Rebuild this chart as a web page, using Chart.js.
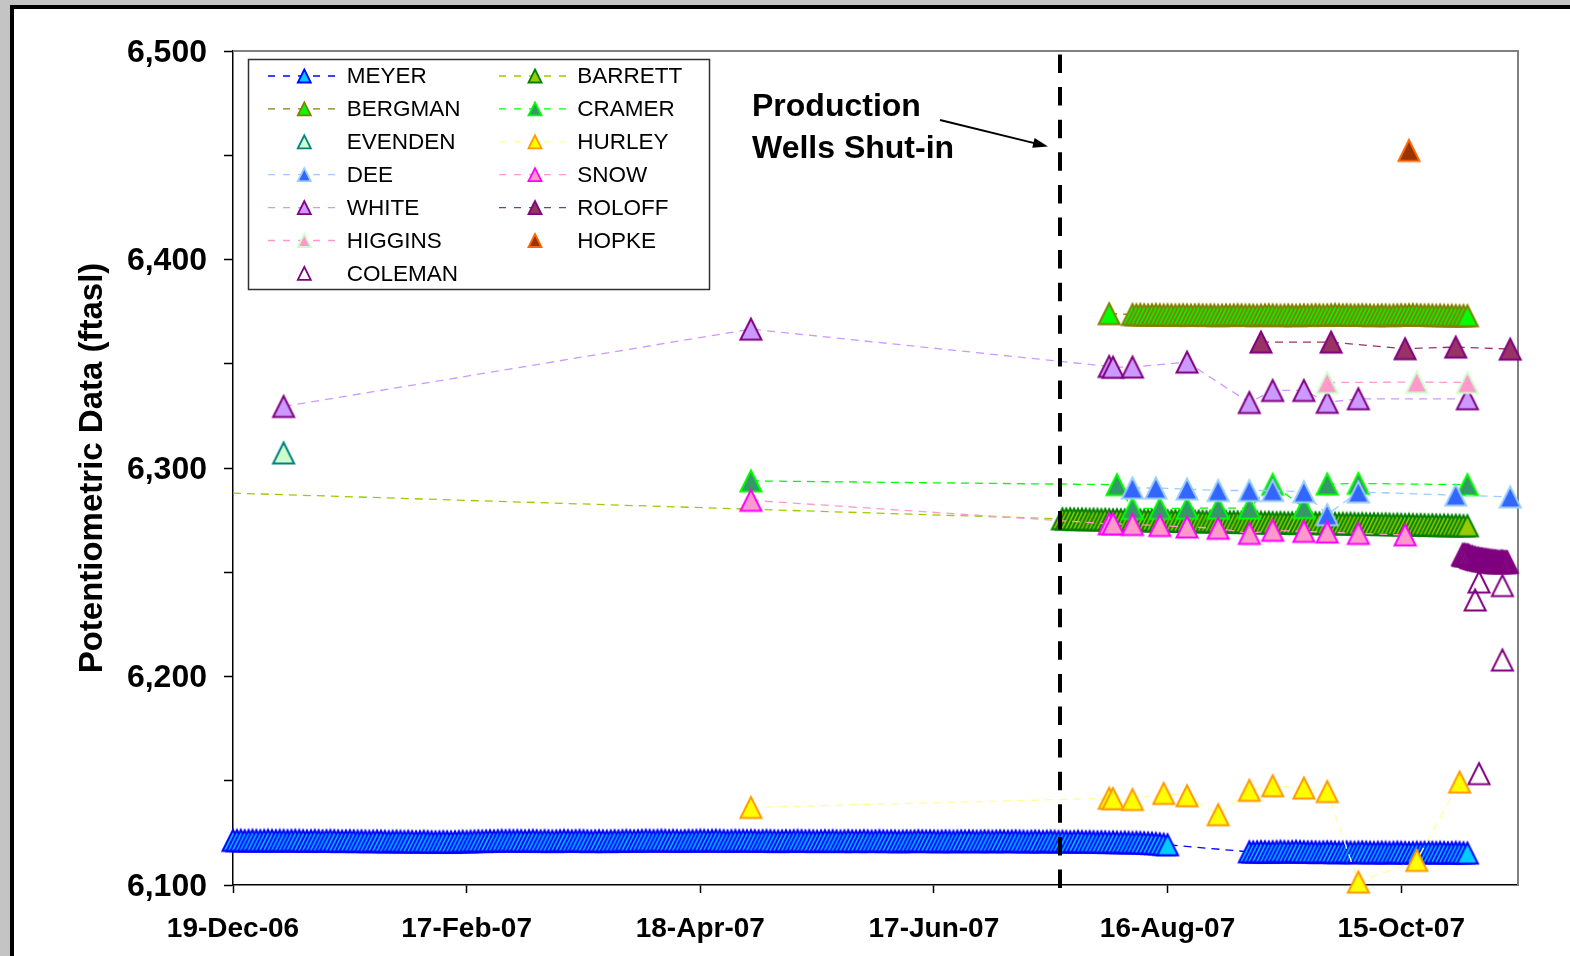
<!DOCTYPE html>
<html>
<head>
<meta charset="utf-8">
<title>Potentiometric Data</title>
<script src="https://cdn.jsdelivr.net/npm/chart.js@4.4.1/dist/chart.umd.min.js"></script>
<style>
  html, body { margin: 0; padding: 0; }
  body { width: 1570px; height: 956px; overflow: hidden; background: #c4c4c4; position: relative; }
  #frame { position: absolute; left: 10px; top: 5px; width: 1600px; height: 1000px;
           border-left: 4px solid #000; border-top: 4px solid #000; background: #fff; }
  #chart { position: absolute; left: 0; top: 0; }
</style>
</head>
<body>
<div id="frame"></div>
<canvas id="chart" width="1570" height="956"></canvas>
<script>
// ---- axis setup ----
const axisStart = '2006-12-19';
const axisSpanDays = 330;
const tickDates  = ['2006-12-19', '2007-02-17', '2007-04-18', '2007-06-17', '2007-08-16', '2007-10-15'];
const tickLabels = ['19-Dec-06', '17-Feb-07', '18-Apr-07', '17-Jun-07', '16-Aug-07', '15-Oct-07'];
const levelMin = 6100, levelMax = 6500, levelStep = 50;
const shutInDate = '2007-07-19T12:00';
const yAxisTitle = 'Potentiometric Data (ftasl)';
const noteLines = ['Production', 'Wells Shut-in'];

// ---- MEYER: daily transducer readings, two deployments ----
const meyerLogStartA = '2006-12-19';
const meyerLogA = [
  6121.4, 6121.3, 6121.4, 6121.2, 6121.3, 6121.4, 6121.3, 6121.2, 6121.3, 6121.4, 6121.3, 6121.2, 6121.3,
  6121.3, 6121.2, 6121.3, 6121.4, 6121.3, 6121.2, 6121.1, 6121.2, 6121.3, 6121.2, 6121.1, 6121.2, 6121.3, 6121.2, 6121.1, 6121.0,
  6121.1, 6121.2, 6121.1, 6121.0, 6121.1, 6121.0, 6120.9, 6121.0, 6121.1, 6121.0, 6120.9, 6120.8, 6120.9, 6121.0, 6120.9,
  6120.8, 6120.9, 6120.8, 6120.7, 6120.8, 6120.9, 6120.8, 6120.7, 6120.6, 6120.7, 6120.8, 6120.7, 6120.6, 6120.7,
  6120.8, 6120.9, 6120.8, 6120.9, 6121.0, 6121.1, 6121.0, 6121.1, 6121.2, 6121.1, 6121.2, 6121.3, 6121.2, 6121.3,
  6121.2, 6121.3, 6121.2, 6121.1, 6121.2, 6121.3, 6121.2, 6121.1, 6121.2, 6121.1, 6121.0, 6121.1, 6121.2, 6121.3, 6121.2, 6121.1,
  6121.2, 6121.3, 6121.2, 6121.1, 6121.0, 6121.1, 6121.2, 6121.1, 6121.0, 6121.1, 6121.2, 6121.1, 6121.2, 6121.3, 6121.2,
  6121.1, 6121.2, 6121.3, 6121.4, 6121.3, 6121.2, 6121.3, 6121.4, 6121.3, 6121.2, 6121.3, 6121.2, 6121.1, 6121.2, 6121.3,
  6121.2, 6121.3, 6121.4, 6121.3, 6121.2, 6121.3, 6121.4, 6121.3, 6121.2, 6121.1, 6121.2, 6121.3, 6121.2, 6121.3, 6121.2,
  6121.3, 6121.2, 6121.1, 6121.2, 6121.3, 6121.2, 6121.1, 6121.0, 6121.1, 6121.2, 6121.1, 6121.2, 6121.3, 6121.2, 6121.1, 6121.2,
  6121.1, 6121.0, 6121.1, 6121.2, 6121.1, 6121.2, 6121.1, 6121.0, 6121.1, 6121.2, 6121.1, 6121.0, 6121.1, 6121.2, 6121.1,
  6121.0, 6121.1, 6121.2, 6121.1, 6121.0, 6121.1, 6121.0, 6120.9, 6121.0, 6121.1, 6121.0, 6121.1, 6121.2, 6121.1, 6121.0,
  6121.1, 6121.0, 6120.9, 6121.0, 6121.1, 6121.0, 6120.9, 6121.0, 6121.1, 6121.0, 6121.1, 6121.0, 6120.9, 6121.0, 6121.1,
  6121.0, 6120.9, 6121.0, 6121.1, 6121.0, 6120.9, 6121.0, 6121.1, 6121.0, 6120.9, 6120.8, 6120.9, 6121.0, 6120.9, 6120.8, 6120.9,
  6121.0, 6120.9, 6120.8, 6120.9, 6120.8, 6120.7, 6120.8, 6120.9, 6120.8, 6120.7, 6120.8, 6120.7, 6120.6, 6120.7, 6120.6,
  6120.5, 6120.6, 6120.5, 6120.4, 6120.5, 6120.4, 6120.3, 6120.4, 6120.3, 6120.2, 6120.1, 6120.0, 6119.9, 6119.7, 6119.5, 6119.3
];
const meyerLogStartB = '2007-09-06';
const meyerLogB = [
  6115.9, 6115.8, 6115.9, 6116.0, 6115.9, 6115.8, 6115.9, 6116.0, 6116.1, 6116.0, 6115.9, 6116.0, 6116.1,
  6116.0, 6115.9, 6115.8, 6115.9, 6115.8, 6115.7, 6115.8, 6115.9, 6115.8, 6115.7, 6115.6, 6115.7,
  6115.8, 6115.7, 6115.6, 6115.7, 6115.8, 6115.7, 6115.6, 6115.5, 6115.6, 6115.7, 6115.6, 6115.5, 6115.6, 6115.7, 6115.6, 6115.5,
  6115.4, 6115.5, 6115.6, 6115.5, 6115.6, 6115.7, 6115.6, 6115.5, 6115.6, 6115.5, 6115.4, 6115.5, 6115.6, 6115.5, 6115.4,
  6115.3
];

// ---- BARRETT: one early reading, then daily transducer ----
const barrettDates = ['2006-12-01'];
const barrettLevels = [6289.0];
const barrettLogStart = '2007-07-20';
const barrettLog = [
  6275.6, 6275.5, 6275.6, 6275.5, 6275.4, 6275.5, 6275.4, 6275.3, 6275.4, 6275.3, 6275.2, 6275.3,
  6275.2, 6275.1, 6275.2, 6275.1, 6275.0, 6275.1, 6275.0, 6274.9, 6275.0, 6274.9, 6274.8, 6274.9, 6274.8, 6274.7, 6274.8, 6274.7,
  6274.6, 6274.7, 6274.6, 6274.5, 6274.6, 6274.5, 6274.4, 6274.5, 6274.4, 6274.3, 6274.4, 6274.3, 6274.2, 6274.3, 6274.2,
  6274.1, 6274.2, 6274.1, 6274.0, 6274.1, 6274.0, 6273.9, 6274.0, 6273.9, 6273.8, 6273.9, 6273.8, 6273.7, 6273.8, 6273.7,
  6273.6, 6273.7, 6273.6, 6273.5, 6273.6, 6273.5, 6273.6, 6273.7, 6273.6, 6273.5, 6273.4, 6273.5, 6273.4, 6273.3, 6273.4,
  6273.3, 6273.4, 6273.3, 6273.2, 6273.3, 6273.2, 6273.1, 6273.2, 6273.1, 6273.0, 6273.1, 6273.0, 6272.9, 6273.0, 6272.9,
  6272.8, 6272.9, 6272.8, 6272.7, 6272.8, 6272.7, 6272.6, 6272.7, 6272.6, 6272.5, 6272.6, 6272.5, 6272.4, 6272.5, 6272.4, 6272.3,
  6272.3
];

// ---- BERGMAN: one manual reading, then daily transducer ----
const bergmanDates = ['2007-08-01'];
const bergmanLevels = [6374.0];
const bergmanLogStart = '2007-08-07';
const bergmanLog = [
  6373.6, 6373.5, 6373.6, 6373.5, 6373.4, 6373.5, 6373.6, 6373.5, 6373.4, 6373.5, 6373.4, 6373.3, 6373.4,
  6373.5, 6373.4, 6373.3, 6373.4, 6373.5, 6373.4, 6373.3, 6373.4, 6373.3, 6373.2, 6373.3, 6373.4,
  6373.3, 6373.4, 6373.5, 6373.4, 6373.3, 6373.4, 6373.3, 6373.2, 6373.3, 6373.4, 6373.5, 6373.4, 6373.3, 6373.2, 6373.3,
  6373.4, 6373.3, 6373.2, 6373.3, 6373.4, 6373.3, 6373.4, 6373.5, 6373.4, 6373.3, 6373.4, 6373.5, 6373.6, 6373.5, 6373.4,
  6373.5, 6373.4, 6373.3, 6373.4, 6373.5, 6373.4, 6373.3, 6373.2, 6373.3, 6373.4, 6373.3, 6373.2, 6373.3, 6373.4, 6373.5, 6373.4,
  6373.5, 6373.6, 6373.5, 6373.4, 6373.3, 6373.4, 6373.3, 6373.2, 6373.3, 6373.2, 6373.1, 6373.2, 6373.1, 6373.0, 6373.1,
  6373.0
];

// ---- manual readings ----
const cramerDates = ['2007-05-01', '2007-08-03', '2007-08-07', '2007-08-14', '2007-08-21', '2007-08-29', '2007-09-06',
                     '2007-09-12', '2007-09-20', '2007-09-26', '2007-10-04', '2007-11-01'];
const cramerLevels = [6293.8, 6292.0, 6280.6, 6280.6, 6280.7, 6280.8, 6280.8, 6292.2, 6281.0, 6292.3, 6292.6, 6292.0];

const evendenDates = ['2007-01-01'];
const evendenLevels = [6307.2];

const hurleyDates = ['2007-05-01', '2007-08-01', '2007-08-02', '2007-08-07', '2007-08-15', '2007-08-21', '2007-08-29',
                     '2007-09-06', '2007-09-12', '2007-09-20', '2007-09-26', '2007-10-04', '2007-10-19', '2007-10-30'];
const hurleyLevels = [6137.2, 6141.6, 6141.4, 6141.0, 6143.9, 6142.8, 6133.7, 6145.4, 6147.6, 6146.5, 6144.8, 6101.4, 6111.8, 6149.4];

const deeDates = ['2007-08-07', '2007-08-13', '2007-08-21', '2007-08-29', '2007-09-06', '2007-09-12', '2007-09-20',
                  '2007-09-26', '2007-10-04', '2007-10-29', '2007-11-12'];
const deeLevels = [6290.4, 6290.4, 6289.9, 6289.2, 6289.2, 6289.2, 6288.6, 6277.6, 6288.5, 6287.0, 6286.1];

const snowDates = ['2007-05-01', '2007-08-01', '2007-08-02', '2007-08-07', '2007-08-14', '2007-08-21', '2007-08-29',
                   '2007-09-06', '2007-09-12', '2007-09-20', '2007-09-26', '2007-10-04', '2007-10-16'];
const snowLevels = [6284.5, 6273.2, 6273.2, 6272.9, 6272.4, 6271.7, 6271.1, 6268.6, 6270.1, 6269.6, 6269.3, 6268.6, 6267.9];

const whiteDates = ['2007-01-01', '2007-05-01', '2007-08-01', '2007-08-02', '2007-08-07', '2007-08-21', '2007-09-06',
                    '2007-09-12', '2007-09-20', '2007-09-26', '2007-10-04', '2007-11-01'];
const whiteLevels = [6329.5, 6366.6, 6348.7, 6348.3, 6348.4, 6350.8, 6331.4, 6337.2, 6337.2, 6331.5, 6333.2, 6333.2];

const roloffDates = ['2007-09-09', '2007-09-27', '2007-10-16', '2007-10-29', '2007-11-12'];
const roloffLevels = [6360.4, 6360.4, 6357.2, 6358.0, 6357.0];

const higginsDates = ['2007-09-26', '2007-10-19', '2007-11-01'];
const higginsLevels = [6341.0, 6341.2, 6341.0];

const hopkeDates = ['2007-10-17'];
const hopkeLevels = [6452.3];

// ---- COLEMAN: 6-hourly transducer plus manual readings ----
const colemanLogStart = '2007-10-30T18:00';
const colemanLogStepHours = 6;
const colemanLog = [
  6258.4, 6258.1, 6258.5, 6258.0, 6258.3, 6257.9, 6258.2, 6257.8,
  6257.4, 6257.0, 6257.5, 6256.9, 6256.6, 6257.0, 6256.5, 6256.2,
  6256.7, 6256.0, 6256.4, 6255.8, 6256.3, 6255.6, 6256.1, 6255.5,
  6256.0, 6255.3, 6255.9, 6255.1, 6255.7, 6255.0, 6255.6, 6254.9,
  6255.5, 6254.7, 6255.4, 6254.8, 6255.2, 6254.6, 6255.1, 6254.7,
  6255.3, 6254.9, 6255.1, 6254.6, 6255.0, 6254.8, 6254.9
];
const colemanDates = ['2007-11-03', '2007-11-04', '2007-11-04', '2007-11-10', '2007-11-10'];
const colemanLevels = [6236.7, 6245.3, 6153.4, 6243.6, 6207.9];

// ---- marker / line styles per well ----
const seriesStyle = {
  MEYER:   { line: '#0000ff', fill: '#00ccff', edge: '#0000ff' },
  BERGMAN: { line: '#808000', fill: '#00ff00', edge: '#808000' },
  EVENDEN: { line: null,      fill: '#ccffcc', edge: '#008080' },
  DEE:     { line: '#99ccff', fill: '#3366ff', edge: '#99ccff' },
  WHITE:   { line: '#cc99ff', fill: '#cc99ff', edge: '#800080' },
  HIGGINS: { line: '#ff99cc', fill: '#ff99cc', edge: '#ccffcc' },
  COLEMAN: { line: null,      fill: null,      edge: '#800080' },
  BARRETT: { line: '#99cc00', fill: '#99cc00', edge: '#008000' },
  CRAMER:  { line: '#00ff00', fill: '#339966', edge: '#00ff00' },
  HURLEY:  { line: '#ffff99', fill: '#ffff00', edge: '#ff9900' },
  SNOW:    { line: '#ff99cc', fill: '#ff99cc', edge: '#ff00ff' },
  ROLOFF:  { line: '#993366', fill: '#993366', edge: '#800080' },
  HOPKE:   { line: null,      fill: '#993300', edge: '#ff6600' }
};
const legendColumns = [
  ['MEYER', 'BERGMAN', 'EVENDEN', 'DEE', 'WHITE', 'HIGGINS', 'COLEMAN'],
  ['BARRETT', 'CRAMER', 'HURLEY', 'SNOW', 'ROLOFF', 'HOPKE']
];
// painting order, first = bottom
const paintOrder = ['MEYER', 'BARRETT', 'BERGMAN', 'CRAMER', 'EVENDEN', 'HURLEY', 'DEE', 'SNOW',
                    'WHITE', 'ROLOFF', 'HIGGINS', 'HOPKE', 'COLEMAN'];

const FONT = '"Liberation Sans", Arial, Helvetica, sans-serif';

// ---- helpers ----
function toUTC(s) {
  const [datePart, timePart] = s.split('T');
  const [y, m, d] = datePart.split('-').map(Number);
  const [hh, mm] = (timePart || '00:00').split(':').map(Number);
  return Date.UTC(y, m - 1, d, hh, mm);
}
const ORIGIN = toUTC(axisStart);
function dayOf(s) { return (toUTC(s) - ORIGIN) / 86400000; }
function readings(dates, levels) { return dates.map((d, i) => ({ x: dayOf(d), y: levels[i] })); }
function logger(start, levels, stepDays) {
  const s = dayOf(start);
  return levels.map((v, i) => ({ x: s + i * stepDays, y: v }));
}

// Excel-style triangle (width = height), centred on its bounding box
function tri(ctx, cx, cy, h, fill, edge, lw) {
  ctx.save();
  ctx.beginPath();
  ctx.moveTo(cx, cy - h / 2);
  ctx.lineTo(cx + h / 2, cy + h / 2);
  ctx.lineTo(cx - h / 2, cy + h / 2);
  ctx.closePath();
  if (fill) { ctx.fillStyle = fill; ctx.fill(); }
  ctx.lineJoin = 'miter';
  ctx.lineWidth = lw;
  ctx.strokeStyle = edge;
  ctx.stroke();
  ctx.restore();
}
function markerImage(st) {
  const c = document.createElement('canvas');
  c.width = c.height = 30;
  tri(c.getContext('2d'), 15, 15, 21, st.fill, st.edge, 2);
  return c;
}

// ---- datasets ----
const seriesData = {
  MEYER:   logger(meyerLogStartA, meyerLogA, 1).concat(logger(meyerLogStartB, meyerLogB, 1)),
  BARRETT: readings(barrettDates, barrettLevels).concat(logger(barrettLogStart, barrettLog, 1)),
  BERGMAN: readings(bergmanDates, bergmanLevels).concat(logger(bergmanLogStart, bergmanLog, 1)),
  CRAMER:  readings(cramerDates, cramerLevels),
  EVENDEN: readings(evendenDates, evendenLevels),
  HURLEY:  readings(hurleyDates, hurleyLevels),
  DEE:     readings(deeDates, deeLevels),
  SNOW:    readings(snowDates, snowLevels),
  WHITE:   readings(whiteDates, whiteLevels),
  ROLOFF:  readings(roloffDates, roloffLevels),
  HIGGINS: readings(higginsDates, higginsLevels),
  HOPKE:   readings(hopkeDates, hopkeLevels),
  COLEMAN: logger(colemanLogStart, colemanLog, colemanLogStepHours / 24)
             .concat(readings(colemanDates, colemanLevels)).sort((a, b) => a.x - b.x)
};

const datasets = paintOrder.map((name, i) => {
  const st = seriesStyle[name];
  return {
    label: name,
    data: seriesData[name],
    order: paintOrder.length - i,
    showLine: !!st.line,
    borderColor: st.line || st.edge,
    borderWidth: 1.3,
    borderDash: [8, 6],
    tension: 0,
    fill: false,
    pointStyle: markerImage(st),
    pointRadius: 12,
    pointHoverRadius: 12,
    clip: name === 'BARRETT' ? 0 : false
  };
});

// ---- decorations: plot frame, shut-in line, note, legend ----
const decorations = {
  id: 'decorations',
  beforeDatasetsDraw(chart) {
    const { ctx, chartArea: a } = chart;
    ctx.save();
    ctx.strokeStyle = '#808080';
    ctx.lineWidth = 2;
    ctx.beginPath();
    ctx.moveTo(a.left, a.top);
    ctx.lineTo(a.right, a.top);
    ctx.lineTo(a.right, a.bottom);
    ctx.stroke();
    ctx.restore();
  },
  afterDatasetsDraw(chart) {
    const { ctx, chartArea: a, scales } = chart;
    const x = Math.round(scales.x.getPixelForValue(dayOf(shutInDate)));
    ctx.save();
    ctx.strokeStyle = '#000';
    ctx.lineWidth = 4;
    ctx.setLineDash([18.5, 14.1]);
    ctx.beginPath();
    ctx.moveTo(x, a.bottom + 3);
    ctx.lineTo(x, a.top);
    ctx.stroke();
    ctx.restore();
  },
  afterDraw(chart) {
    const { ctx } = chart;
    ctx.save();
    // note text
    ctx.fillStyle = '#000';
    ctx.font = 'bold 32px ' + FONT;
    ctx.textBaseline = 'alphabetic';
    ctx.textAlign = 'left';
    ctx.fillText(noteLines[0], 752, 115.5);
    ctx.fillText(noteLines[1], 752, 157.5);
    // arrow
    const x0 = 940, y0 = 120, x1 = 1048, y1 = 146.5;
    const ang = Math.atan2(y1 - y0, x1 - x0);
    ctx.strokeStyle = '#000';
    ctx.lineWidth = 2;
    ctx.beginPath();
    ctx.moveTo(x0, y0);
    ctx.lineTo(x1 - 12 * Math.cos(ang), y1 - 12 * Math.sin(ang));
    ctx.stroke();
    ctx.beginPath();
    ctx.moveTo(x1, y1);
    ctx.lineTo(x1 - 15 * Math.cos(ang) + 5 * Math.sin(ang), y1 - 15 * Math.sin(ang) - 5 * Math.cos(ang));
    ctx.lineTo(x1 - 15 * Math.cos(ang) - 5 * Math.sin(ang), y1 - 15 * Math.sin(ang) + 5 * Math.cos(ang));
    ctx.closePath();
    ctx.fill();

    // legend box
    const bx = 248.5, by = 59.5, bw = 461, bh = 230;
    ctx.fillStyle = '#fff';
    ctx.fillRect(bx, by, bw, bh);
    ctx.strokeStyle = '#303030';
    ctx.lineWidth = 1.5;
    ctx.strokeRect(bx, by, bw, bh);
    const colLine = [268, 499], colMark = [304.3, 535], colText = [346.7, 577.3];
    ctx.font = '22.5px ' + FONT;
    ctx.textBaseline = 'middle';
    legendColumns.forEach((col, ci) => {
      col.forEach((name, ri) => {
        const y = 76 + ri * 32.9;
        const st = seriesStyle[name];
        if (st.line) {
          ctx.save();
          ctx.strokeStyle = st.line;
          ctx.lineWidth = 1.3;
          ctx.setLineDash([7, 8]);
          ctx.beginPath();
          ctx.moveTo(colLine[ci], y);
          ctx.lineTo(colLine[ci] + 70, y);
          ctx.stroke();
          ctx.restore();
        }
        tri(ctx, colMark[ci], y, 13, st.fill, st.edge, 1.8);
        ctx.fillStyle = '#000';
        ctx.fillText(name, colText[ci], y + 1);
      });
    });
    ctx.restore();
  }
};

new Chart(document.getElementById('chart'), {
  type: 'line',
  data: { datasets },
  plugins: [decorations],
  options: {
    animation: false,
    responsive: false,
    devicePixelRatio: 1,
    events: [],
    layout: { padding: { left: 0, top: 51, right: 52, bottom: 0 } },
    plugins: { legend: { display: false }, tooltip: { enabled: false } },
    scales: {
      x: {
        type: 'linear',
        min: 0,
        max: axisSpanDays,
        afterBuildTicks: (s) => { s.ticks = tickDates.map(d => ({ value: dayOf(d) })); },
        afterFit: (s) => { s.height = 71; },
        ticks: {
          callback: (v, i) => tickLabels[i],
          font: { family: FONT, size: 28, weight: 'bold' },
          color: '#000', padding: 19, maxRotation: 0, autoSkip: false
        },
        grid: { display: true, drawOnChartArea: false, drawTicks: true, tickLength: 8, tickColor: '#000', tickWidth: 1.5 },
        border: { display: true, color: '#000', width: 1.5 }
      },
      y: {
        min: levelMin,
        max: levelMax,
        afterFit: (s) => { s.width = 233; },
        ticks: {
          stepSize: levelStep,
          callback: (v) => (v % 100 === 0 ? v.toLocaleString('en-US') : ''),
          font: { family: FONT, size: 32, weight: 'bold' },
          color: '#000', padding: 17, autoSkip: false, labelOffset: 2
        },
        grid: { display: true, drawOnChartArea: false, drawTicks: true, tickLength: 9, tickColor: '#000', tickWidth: 1.5 },
        border: { display: true, color: '#000', width: 1.5 },
        title: {
          display: true, text: yAxisTitle, color: '#000',
          font: { family: FONT, size: 33, weight: 'bold' },
          padding: { top: 73, bottom: 0 }
        }
      }
    }
  }
});
</script>
</body>
</html>
